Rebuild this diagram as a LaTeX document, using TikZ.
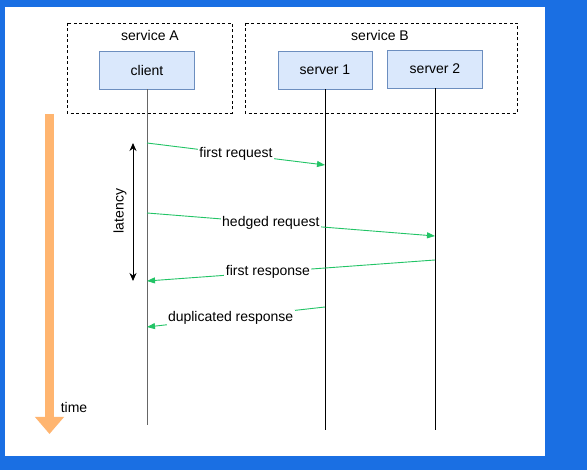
\documentclass[tikz,border=0pt]{standalone}
\usepackage{fontspec}
\setmainfont{Liberation Sans}
\usetikzlibrary{arrows.meta}
\definecolor{frameblue}{HTML}{1A6FE3}
\definecolor{boxfill}{HTML}{DAE8FC}
\definecolor{boxline}{HTML}{6C8EBF}
\definecolor{msggreen}{HTML}{22C466}
\definecolor{timeorange}{HTML}{FFB570}

\begin{document}
\begin{tikzpicture}[x=1pt, y=-1pt,
    every node/.style={font=\fontsize{14}{17}\selectfont},
    servicebox/.style={draw, dash pattern=on 3pt off 2.5pt, line width=0.9pt},
    procbox/.style={draw=boxline, fill=boxfill, line width=0.9pt, minimum height=38pt, inner sep=0pt},
    lifeline/.style={line width=1pt},
    msg/.style={msggreen, line width=0.9pt, -{Triangle[length=8pt, width=6pt]}},
    msglabel/.style={fill=white, inner sep=1.5pt}]
  \useasboundingbox (0,0) rectangle (587,470);
  \fill[frameblue] (0,0) rectangle (587,470);
  \fill[white] (5,7) rectangle (545,456);
  % services
  \draw[servicebox] (67,23) rectangle (232,113);
  \draw[servicebox] (245,23) rectangle (517,113);
  \node (labelA) at (150,35) {service A};
  \node (labelB) at (380,35) {service B};
  \node[procbox, minimum width=95pt] (client) at (147,70) {client};
  \node[procbox, minimum width=94pt] (server1) at (325,70) {server 1};
  \node[procbox, minimum width=95pt] (server2) at (435,69) {server 2};
  % lifelines
  \coordinate (clientend) at (147,425);
  \coordinate (server1end) at (325,430);
  \coordinate (server2end) at (435,430);
  \draw[lifeline, black!60] (client.south) -- (clientend);
  \draw[lifeline] (server1.south) -- (server1end);
  \draw[lifeline] (server2.south) -- (server2end);
  % messages
  \coordinate (req1a) at (147,143);
  \coordinate (req1b) at (325,165);
  \coordinate (req2a) at (147,213);
  \coordinate (req2b) at (435,236);
  \coordinate (resp1a) at (435,260);
  \coordinate (resp1b) at (147,281);
  \coordinate (resp2a) at (325,307);
  \coordinate (resp2b) at (147,327);
  \draw[msg] (req1a) -- node[msglabel, pos=0.5, text=black] {first request} (req1b);
  \draw[msg] (req2a) -- node[msglabel, pos=0.43, text=black] {hedged request} (req2b);
  \draw[msg] (resp1a) -- node[msglabel, pos=0.58, text=black] {first response} (resp1b);
  \draw[msg] (resp2a) -- node[msglabel, pos=0.53, text=black] {duplicated response} (resp2b);
  % latency
  \coordinate (lattop) at (133,143);
  \coordinate (latbot) at (133,281);
  \draw[line width=1pt, {Stealth[length=8pt, width=7pt]}-{Stealth[length=8pt, width=7pt]}] (lattop) -- (latbot);
  \node[rotate=90] (latlabel) at (120,211) {latency};
  % time
  \coordinate (timetop) at (49.5,114);
  \coordinate (timetip) at (49.5,434);
  \draw[timeorange, line width=9pt, -{Triangle[length=17pt, width=28pt]}] (timetop) -- (timetip);
  \node (timelabel) at (74,407) {time};
\end{tikzpicture}
\end{document}
